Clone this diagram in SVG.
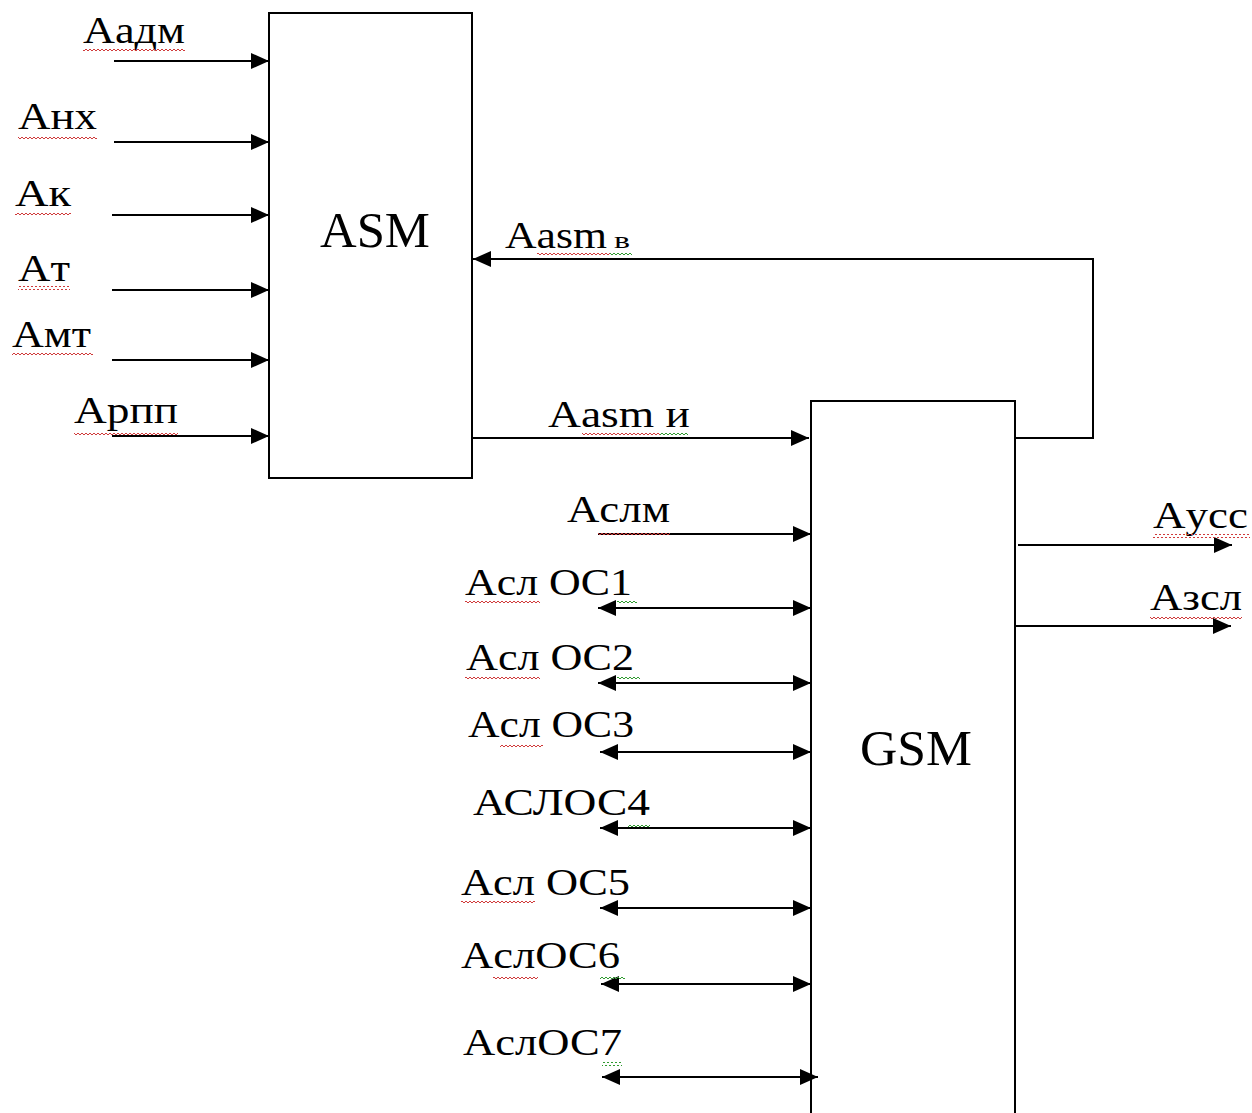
<svg xmlns="http://www.w3.org/2000/svg" width="1252" height="1113" viewBox="0 0 1252 1113">
<style>
.box{fill:#fff;stroke:#000;stroke-width:2}
.ln{fill:none;stroke:#000;stroke-width:2}
.lbl{font-family:"Liberation Serif","Times New Roman",serif;font-size:38px;fill:#000}
.big{font-family:"Liberation Serif","Times New Roman",serif;font-size:50px;fill:#000}
.rw{fill:url(#rwave)}
.gw{fill:url(#gwave)}
</style>
<defs>
<marker id="ah" markerUnits="userSpaceOnUse" markerWidth="20" markerHeight="16" refX="18" refY="8" orient="auto-start-reverse">
<path d="M0,0 L18,8 L0,16 z" fill="#000"/>
</marker>
<pattern id="rwave" patternUnits="userSpaceOnUse" width="4" height="4">
<path d="M0,3 L2,1 L4,3" fill="none" stroke="#d03a3a" stroke-width="1"/>
</pattern>
<pattern id="gwave" patternUnits="userSpaceOnUse" width="4" height="4">
<path d="M0,3 L2,1 L4,3" fill="none" stroke="#2f9a2f" stroke-width="1"/>
</pattern>
</defs>
<rect width="1252" height="1113" fill="#fff"/>

<g id="ASM">
<rect class="box" x="269" y="13" width="203" height="465"/>
<text class="big" x="320" y="247" textLength="110" lengthAdjust="spacingAndGlyphs">ASM</text>
</g>
<g id="GSM">
<path class="box" d="M811,1114 V401 H1015 V1114"/>
<text class="big" x="860" y="765" textLength="112" lengthAdjust="spacingAndGlyphs">GSM</text>
</g>

<g id="connectors">
<line class="ln" x1="114" y1="61" x2="269" y2="61" marker-end="url(#ah)"/>
<line class="ln" x1="114" y1="142" x2="269" y2="142" marker-end="url(#ah)"/>
<line class="ln" x1="112" y1="215" x2="269" y2="215" marker-end="url(#ah)"/>
<line class="ln" x1="112" y1="290" x2="269" y2="290" marker-end="url(#ah)"/>
<line class="ln" x1="112" y1="360" x2="269" y2="360" marker-end="url(#ah)"/>
<line class="ln" x1="112" y1="436" x2="269" y2="436" marker-end="url(#ah)"/>
<polyline class="ln" points="1015,438 1093,438 1093,259 473,259" marker-end="url(#ah)"/>
<line class="ln" x1="472" y1="438" x2="809" y2="438" marker-end="url(#ah)"/>
<line class="ln" x1="598" y1="534" x2="811" y2="534" marker-end="url(#ah)"/>
<line class="ln" x1="598" y1="608" x2="811" y2="608" marker-start="url(#ah)" marker-end="url(#ah)"/>
<line class="ln" x1="598" y1="683" x2="811" y2="683" marker-start="url(#ah)" marker-end="url(#ah)"/>
<line class="ln" x1="600" y1="752" x2="811" y2="752" marker-start="url(#ah)" marker-end="url(#ah)"/>
<line class="ln" x1="600" y1="828" x2="811" y2="828" marker-start="url(#ah)" marker-end="url(#ah)"/>
<line class="ln" x1="600" y1="908" x2="811" y2="908" marker-start="url(#ah)" marker-end="url(#ah)"/>
<line class="ln" x1="601" y1="984" x2="811" y2="984" marker-start="url(#ah)" marker-end="url(#ah)"/>
<line class="ln" x1="602" y1="1077" x2="818" y2="1077" marker-start="url(#ah)" marker-end="url(#ah)"/>
<line class="ln" x1="1018" y1="545" x2="1232" y2="545" marker-end="url(#ah)"/>
<line class="ln" x1="1015" y1="626" x2="1231" y2="626" marker-end="url(#ah)"/>
</g>

<g id="labels">
<text class="lbl" x="83" y="43" textLength="102" lengthAdjust="spacingAndGlyphs">Aадм</text>
<text class="lbl" x="18" y="129" textLength="79" lengthAdjust="spacingAndGlyphs">Aнх</text>
<text class="lbl" x="15" y="206" textLength="56" lengthAdjust="spacingAndGlyphs">Aк</text>
<text class="lbl" x="18" y="281" textLength="52" lengthAdjust="spacingAndGlyphs">Aт</text>
<text class="lbl" x="12" y="347" textLength="79" lengthAdjust="spacingAndGlyphs">Aмт</text>
<text class="lbl" x="74" y="423" textLength="104" lengthAdjust="spacingAndGlyphs">Aрпп</text>
<text class="lbl" x="505" y="248" textLength="102" lengthAdjust="spacingAndGlyphs">Aasm</text>
<text class="lbl" x="614" y="248" style="font-size:24px" textLength="16" lengthAdjust="spacingAndGlyphs">в</text>
<text class="lbl" x="548" y="427" textLength="142" lengthAdjust="spacingAndGlyphs">Aasm и</text>
<text class="lbl" x="567" y="522" textLength="103" lengthAdjust="spacingAndGlyphs">Aслм</text>
<text class="lbl" x="465" y="595" textLength="167" lengthAdjust="spacingAndGlyphs">Aсл OC1</text>
<text class="lbl" x="466" y="670" textLength="168" lengthAdjust="spacingAndGlyphs">Aсл OC2</text>
<text class="lbl" x="468" y="737" textLength="166" lengthAdjust="spacingAndGlyphs">Aсл OC3</text>
<text class="lbl" x="473" y="815" textLength="177" lengthAdjust="spacingAndGlyphs">АСЛОС4</text>
<text class="lbl" x="461" y="895" textLength="169" lengthAdjust="spacingAndGlyphs">Aсл OC5</text>
<text class="lbl" x="461" y="968" textLength="159" lengthAdjust="spacingAndGlyphs">AслОС6</text>
<text class="lbl" x="463" y="1055" textLength="159" lengthAdjust="spacingAndGlyphs">AслОС7</text>
<text class="lbl" x="1153" y="528" textLength="95" lengthAdjust="spacingAndGlyphs">Aусс</text>
<text class="lbl" x="1150" y="610" textLength="92" lengthAdjust="spacingAndGlyphs">Aзсл</text>
</g>

<g id="spellcheck">
<rect class="rw" x="83" y="49" width="102" height="4"/>
<rect class="rw" x="18" y="135" width="79" height="4"/>
<rect class="rw" x="15" y="212" width="56" height="4"/>
<rect class="rw" x="18" y="286" width="52" height="4"/>
<rect class="rw" x="12" y="352" width="81" height="4"/>
<rect class="rw" x="74" y="431" width="104" height="4"/>
<rect class="rw" x="537" y="251" width="73" height="4"/>
<rect class="gw" x="610" y="251" width="22" height="4"/>
<rect class="rw" x="582" y="431" width="78" height="4"/>
<rect class="gw" x="660" y="431" width="28" height="4"/>
<rect class="rw" x="598" y="531" width="72" height="4"/>
<rect class="rw" x="465" y="601" width="75" height="4"/>
<rect class="gw" x="617" y="601" width="20" height="4"/>
<rect class="rw" x="465" y="676" width="75" height="4"/>
<rect class="gw" x="617" y="676" width="23" height="4"/>
<rect class="rw" x="500" y="745" width="43" height="4"/>
<rect class="gw" x="628" y="823" width="22" height="4"/>
<rect class="rw" x="461" y="901" width="74" height="4"/>
<rect class="rw" x="493" y="976" width="45" height="4"/>
<rect class="gw" x="600" y="976" width="25" height="4"/>
<rect class="gw" x="602" y="1062" width="20" height="4"/>
<rect class="rw" x="1153" y="534" width="97" height="4"/>
<rect class="rw" x="1150" y="615" width="92" height="4"/>
</g>
</svg>
